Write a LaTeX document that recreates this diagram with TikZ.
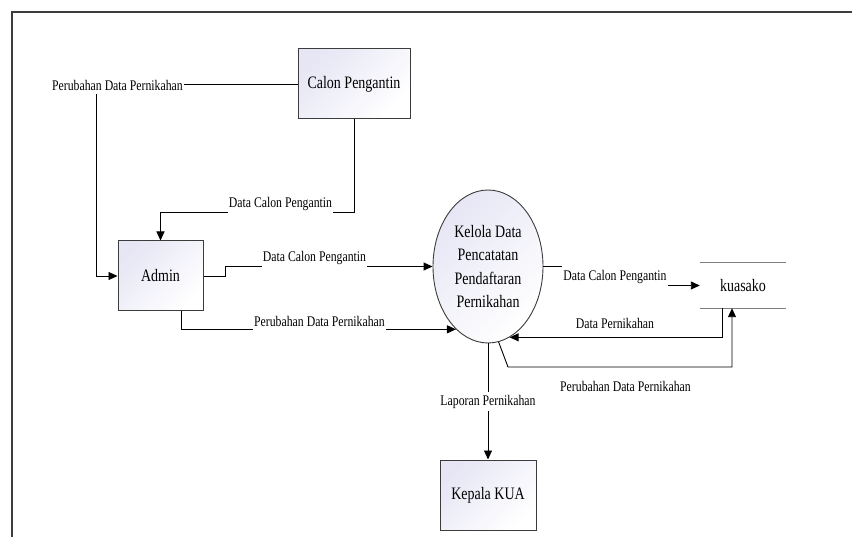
\documentclass[tikz,border=0pt]{standalone}
\usepackage{fontspec}
\setmainfont{Liberation Serif}[FakeStretch=0.8]
\usetikzlibrary{arrows.meta,shapes.geometric}
\definecolor{boxfill}{RGB}{230,230,245}
\definecolor{edgegray}{RGB}{60,60,60}
\tikzset{
  entity/.style={draw=edgegray, line width=1pt, left color=boxfill, right color=white, shading angle=45,
    minimum height=70pt, inner sep=0pt, font=\fontsize{17.5}{21}\selectfont},
  proc/.style={ellipse, draw=edgegray, line width=0.9pt, left color=boxfill, right color=white, shading angle=45,
    minimum width=110pt, minimum height=153pt, inner sep=0pt, align=center, font=\fontsize{17.5}{23.5}\selectfont},
  store/.style={minimum width=86pt, minimum height=45pt, inner sep=0pt, font=\fontsize{17.5}{21}\selectfont},
  lbl/.style={fill=white, inner xsep=1pt, inner ysep=3pt, font=\fontsize{14.7}{17}\selectfont},
  flow/.style={draw=black, line width=0.9pt, -{Triangle[length=9pt,width=8pt]}},
  line/.style={draw=black, line width=0.9pt}
}
\begin{document}
\begin{tikzpicture}[x=1pt, y=-1pt]
\useasboundingbox (0,0) rectangle (852,537);
\draw[edgegray, line width=1.4pt] (12,537) -- (12,12) -- (852,12);

\node[entity, minimum width=112pt] (calon) at (354,84) {Calon Pengantin};
\node[entity, minimum width=85pt] (admin) at (160.5,276) {Admin};
\node[proc] (kelola) at (488,266.5) {Kelola Data\\Pencatatan\\Pendaftaran\\Pernikahan};
\node[entity, minimum width=96pt] (kua) at (488,495) {Kepala KUA};
\node[store] (kuasako) at (743,285.5) {kuasako};
\draw[gray, line width=0.8pt] (kuasako.north west) -- (kuasako.north east);
\draw[gray, line width=0.8pt] (kuasako.south west) -- (kuasako.south east);

% calon pengantin - admin
\draw[flow] (calon.west) -| ([xshift=-21pt]admin.west) -- (admin.west)
  node[lbl] (ubah1) at (117.5,85.6) {Perubahan Data Pernikahan};
\draw[flow] (calon.south) -- ++(0,93) -| (admin.north)
  node[lbl] (calon1) at (280.5,204) {Data Calon Pengantin};

% admin - proses
\draw[flow] (admin.east) -- ++(22,0) |- (kelola.west)
  node[lbl] (calon2) at (314.5,258) {Data Calon Pengantin};
\draw[flow] ([xshift=20.5pt]admin.south) |- (kelola.-117)
  node[lbl] (ubah2) at (319.5,321.6) {Perubahan Data Pernikahan};

% proses - kuasako
\node[lbl] (calon3) at (615,276.6) {Data Calon Pengantin};
\draw[line] (kelola.east) -- (kelola.east -| calon3.west);
\draw[flow] (calon3.east |- kuasako.west) -- (kuasako.west);
\draw[flow] ([xshift=-21pt]kuasako.south) |- (kelola.-73)
  node[lbl, fill=none] (nikah) at (615,323.5) {Data Pernikahan};
\draw[flow] (kelola.-82) -- (508,367) -| ([xshift=-11pt]kuasako.south)
  node[lbl, fill=none] (ubah3) at (625.5,386.6) {Perubahan Data Pernikahan};

% proses - kepala kua
\draw[flow] (kelola.south) -- (kua.north)
  node[lbl] (lapor) at (488,401.6) {Laporan Pernikahan};
\end{tikzpicture}
\end{document}
